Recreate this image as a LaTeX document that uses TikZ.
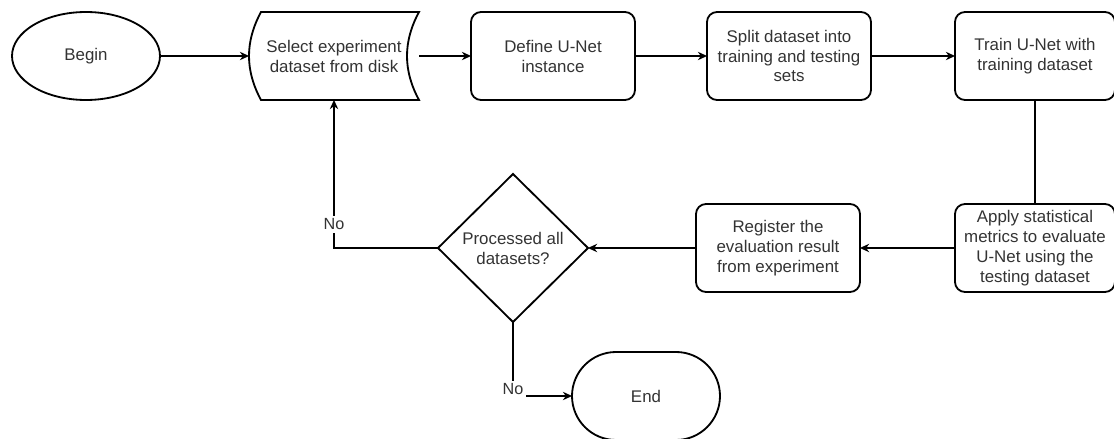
\documentclass[tikz,border=0pt]{standalone}
\usepackage{fontspec}
\setmainfont{Liberation Sans}
\usepackage{xcolor}
\usepackage{tikz}
\usetikzlibrary{shapes.geometric, shapes.misc, arrows.meta, positioning, calc}

\definecolor{txtgray}{HTML}{333333}

\begin{document}
\begin{tikzpicture}[
    font=\fontsize{12}{14.2}\selectfont,
    every node/.style={outer sep=0pt},
    box/.style={draw, line width=1.3pt, rounded corners=0.25cm, minimum width=4.1cm, minimum height=2.2cm, align=center, text=txtgray},
    terminal/.style={draw, ellipse, line width=1.3pt, minimum width=3.7cm, minimum height=2.2cm, text=txtgray},
    stopper/.style={draw, line width=1.3pt, rounded corners=1.1cm, minimum width=3.7cm, minimum height=2.2cm, text=txtgray},
    storage/.style={minimum width=4.25cm, minimum height=2.2cm, align=center, text=txtgray},
    decision/.style={draw, diamond, line width=1.3pt, minimum width=3.75cm, minimum height=3.7cm, inner sep=0pt, align=center, text=txtgray},
    arrow/.style={-{Stealth[length=6.5pt, width=6pt]}, line width=0.9pt},
    link/.style={line width=0.9pt},
    answer/.style={fill=white, font=\fontsize{11.5}{13}\selectfont, text=txtgray, inner sep=2pt}
]
    \useasboundingbox (0,0) rectangle (27.85,-10.975);

    % top row
    \node[terminal] (begin) at (2.15,-1.4) {Begin};
    \node[storage, right=2.225cm of begin] (select) {Select experiment\\dataset from disk};
    \node[box, right=1.3cm of select] (define) {Define U-Net\\instance};
    \node[box, right=1.8cm of define] (split) {Split dataset into\\training and testing\\sets};
    \node[box, minimum width=4cm, right=2.1cm of split] (train) {Train U-Net with\\training dataset};

    % bottom row
    \node[box, minimum width=4cm, below=2.6cm of train] (apply) {Apply statistical\\metrics to evaluate\\U-Net using the\\testing dataset};
    \node[box, left=2.375cm of apply] (register) {Register the\\evaluation result\\from experiment};
    \node[decision, left=2.7cm of register] (check) {Processed all\\datasets?};
    \node[stopper, below=0.75cm of check, xshift=3.325cm] (end) {End};

    % outline of the stored data shape
    \draw[line width=1.3pt] ([xshift=0.3cm]select.north west) -- (select.north east)
        .. controls ([xshift=-0.4cm, yshift=0.36cm]select.east) and ([xshift=-0.4cm, yshift=-0.36cm]select.east) .. (select.south east)
        -- ([xshift=0.3cm]select.south west)
        .. controls ([xshift=-0.1cm, yshift=-0.36cm]select.west) and ([xshift=-0.1cm, yshift=0.36cm]select.west) .. cycle;

    \draw[arrow] (begin) -- (select);
    \draw[arrow] (select) -- (define);
    \draw[arrow] (define) -- (split);
    \draw[arrow] (split) -- (train);
    \draw[link] (train) -- (apply);
    \draw[arrow] (apply) -- (register);
    \draw[arrow] (register) -- (check);
    \draw[arrow] (check.west) -| node[answer, pos=0.58] {No} (select.south);
    \draw[arrow] (check.south) |- node[answer, pos=0.5, yshift=5pt] {No} (end.west);
\end{tikzpicture}
\end{document}
